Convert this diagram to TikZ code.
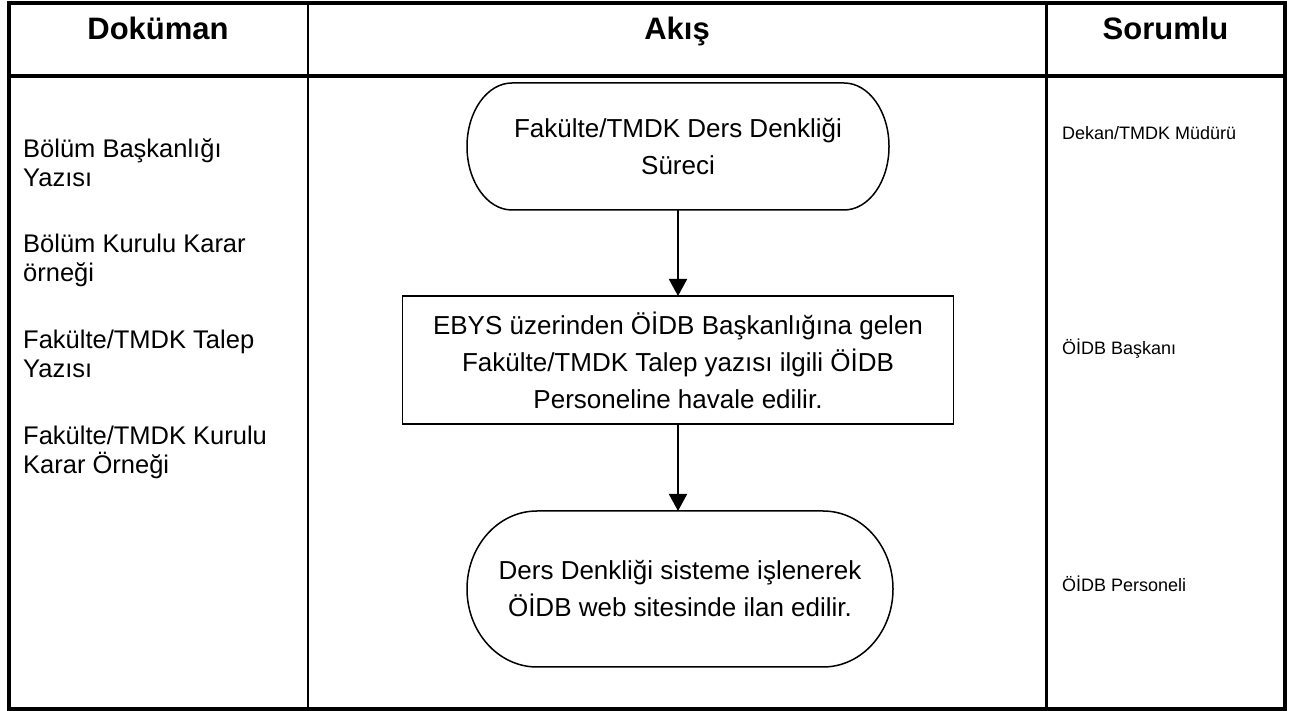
\documentclass[tikz,border=0pt]{standalone}
\usepackage{fontspec}
\setmainfont{Liberation Sans}
\usetikzlibrary{arrows.meta}
\tikzset{
  frame/.style={line width=4pt},
  colline/.style={line width=2.5pt},
  headtext/.style={font=\fontsize{31}{36}\selectfont\bfseries, anchor=base, inner sep=0pt},
  doctext/.style={font=\fontsize{25.5}{29}\selectfont, anchor=base west, align=left, inner sep=0pt},
  resptext/.style={font=\fontsize{18}{22}\selectfont, anchor=base west, inner sep=0pt},
  flowtext/.style={font=\fontsize{26}{37}\selectfont, align=center, inner sep=0pt, outer sep=0pt},
  shapeline/.style={line width=1.5pt},
  flowarrow/.style={line width=2pt, -{Triangle[length=17pt,width=18pt]}}
}
\begin{document}
\begin{tikzpicture}[x=1pt,y=1pt]
\useasboundingbox (0,0) rectangle (1300,711);
% table
\draw[frame] (8.5,707.5) rectangle (1284.5,2);
\draw[frame] (8.5,635) -- (1284.5,635);
\draw[colline] (308,707.5) -- (308,2);
\draw[colline] (1046.5,707.5) -- (1046.5,2);
% headers
\node[headtext] (h1) at (158,671) {Doküman};
\node[headtext] (h2) at (677,671) {Akış};
\node[headtext] (h3) at (1165.5,671) {Sorumlu};
% documents (base = last line baseline)
\node[doctext] (d1) at (23,524) {Bölüm Başkanlığı\\Yazısı};
\node[doctext] (d2) at (23,429) {Bölüm Kurulu Karar\\örneği};
\node[doctext] (d3) at (23,333) {Fakülte/TMDK Talep\\Yazısı};
\node[doctext] (d4) at (23,237) {Fakülte/TMDK Kurulu\\Karar Örneği};
% responsibles
\node[resptext] (s1) at (1062,571) {Dekan/TMDK Müdürü};
\node[resptext] (s2) at (1062,356) {ÖİDB Başkanı};
\node[resptext] (s3) at (1062,119) {ÖİDB Personeli};
% flow
\node[flowtext, minimum width=422pt, minimum height=127pt] (t1) at (678,564.5)
  {Fakülte/TMDK Ders Denkliği\\Süreci};
\draw[shapeline] ([xshift=45pt]t1.north west) -- ([xshift=-45pt]t1.north east)
  arc[start angle=90, end angle=-90, x radius=45pt, y radius=63.5pt]
  -- ([xshift=45pt]t1.south west)
  arc[start angle=270, end angle=90, x radius=45pt, y radius=63.5pt] -- cycle;
\node[flowtext, draw, line width=1.5pt, minimum width=551pt, minimum height=128pt] (r1) at (678,351)
  {EBYS üzerinden ÖİDB Başkanlığına gelen\\Fakülte/TMDK Talep yazısı ilgili ÖİDB\\Personeline havale edilir.};
\node[flowtext, minimum width=426pt, minimum height=156pt] (t2) at (680,122)
  {Ders Denkliği sisteme işlenerek\\ÖİDB web sitesinde ilan edilir.};
\draw[shapeline] ([xshift=70pt]t2.north west) -- ([xshift=-70pt]t2.north east)
  arc[start angle=90, end angle=-90, x radius=70pt, y radius=78pt]
  -- ([xshift=70pt]t2.south west)
  arc[start angle=270, end angle=90, x radius=70pt, y radius=78pt] -- cycle;
\draw[flowarrow] (t1.south) -- (r1.north);
\draw[flowarrow] (r1.south) -- (r1.south |- t2.north);
\end{tikzpicture}
\end{document}
